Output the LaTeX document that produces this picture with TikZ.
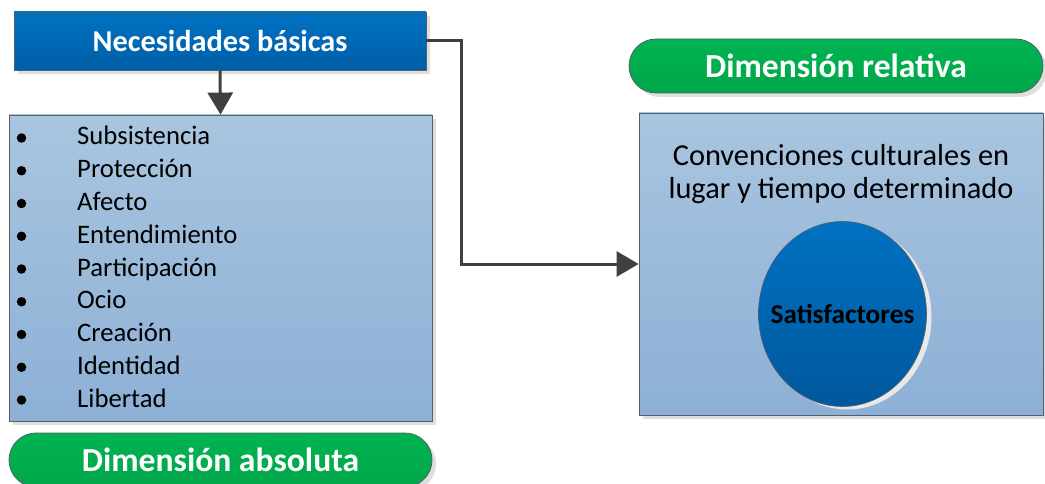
\documentclass[tikz,border=0pt]{standalone}
\usepackage{fontspec}
\setmainfont{Carlito}
\usetikzlibrary{arrows.meta,shapes.misc,shapes.geometric,shadows}

\definecolor{linegray}{HTML}{404040}
\definecolor{edgegray}{HTML}{555F6A}
\definecolor{blueTop}{HTML}{0072C3}
\definecolor{blueBot}{HTML}{005EA6}
\definecolor{paleTop}{HTML}{A9C5DF}
\definecolor{paleBot}{HTML}{8DB0D6}
\definecolor{greenTop}{HTML}{00B451}
\definecolor{greenBot}{HTML}{00A64A}
\definecolor{ovalTop}{HTML}{0071C1}
\definecolor{ovalBot}{HTML}{00589D}

\tikzset{
  shade/.style={drop shadow={shadow xshift=4pt,shadow yshift=-4pt,fill=black!13,opacity=1}},
  headbox/.style={draw=edgegray, line width=0.8pt, top color=blueTop, bottom color=blueBot,
    shade, inner sep=0pt, text=white, font=\fontsize{30.3}{34}\selectfont\bfseries},
  panel/.style={draw=edgegray, line width=0.8pt, top color=paleTop, bottom color=paleBot,
    shade, inner sep=0pt},
  pill/.style={rounded rectangle, draw=edgegray, line width=0.8pt, top color=greenTop,
    bottom color=greenBot, shade, inner sep=0pt, minimum height=54pt, text=white,
    font=\fontsize{33.6}{38}\selectfont\bfseries},
  oval/.style={ellipse, draw=edgegray, line width=0.6pt, top color=ovalTop, bottom color=ovalBot,
    drop shadow={shadow xshift=5pt,shadow yshift=-3pt,fill=black!9,opacity=1}, inner sep=0pt},
  conn/.style={draw=linegray, line width=3pt,
    -{Triangle[length=22pt,width=25pt]}},
  dot/.style={circle, fill=black, inner sep=0pt, minimum size=9.5pt},
  item/.style={anchor=base west, inner sep=0pt, font=\fontsize{26.7}{32}\selectfont},
}

\begin{document}
\begin{tikzpicture}[x=1pt,y=-1pt]
  \useasboundingbox (0,0) rectangle (1045,484);

  % header box and the list of needs
  \node[headbox, minimum width=412pt, minimum height=58pt] (nb) at (220,41) {Necesidades básicas};
  \node[panel, minimum width=423pt, minimum height=306pt] (list) at (220.5,268) {};

  \foreach \name [count=\i] in {Subsistencia,Protección,Afecto,Entendimiento,Participación,Ocio,Creación,Identidad,Libertad}{
    \node[dot] (b\i) at (21.5,{138+32.75*(\i-1)}) {};
    \node[item] (t\i) at (77,{145+32.75*(\i-1)}) {\name};
  }

  \node[pill, minimum width=423pt] (abs) at (220.5,460) {\raisebox{-2pt}{Dimensión absoluta}};

  % relative dimension
  \node[pill, minimum width=414pt] (rel) at (836,66) {Dimensión relativa};
  \node[panel, minimum width=404pt, minimum height=302pt] (rb) at (841,264) {};
  \node[align=center, inner sep=0pt, font=\fontsize{30.4}{33}\selectfont] (conv) at (841,174)
    {Convenciones culturales en\\lugar y tiempo determinado};
  \node[oval, minimum width=168pt, minimum height=185pt] (sat) at (842.5,314) {};
  \node[inner sep=0pt, font=\fontsize{27.3}{30}\selectfont\bfseries] (satl) at (sat.center) {Satisfactores};

  % connectors
  \coordinate (turn) at (461,41);
  \draw[conn] (nb.south) -- (list.north);
  \draw[conn] (nb.east) -- (turn) |- (rb.west);
\end{tikzpicture}
\end{document}
